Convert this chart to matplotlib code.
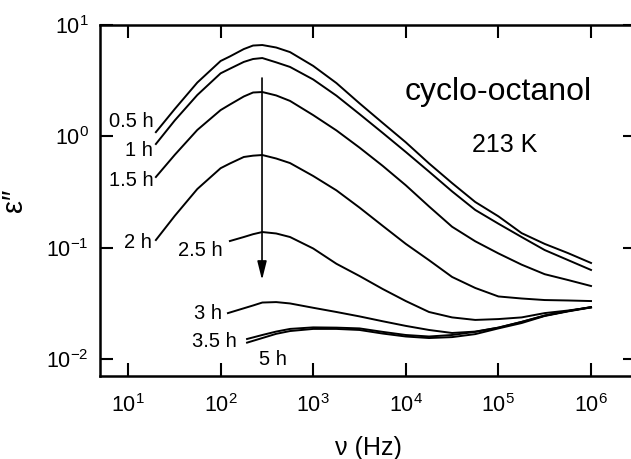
import matplotlib
matplotlib.use("Agg")
import matplotlib.pyplot as plt

plt.rcParams['font.family'] = ['Liberation Sans', 'DejaVu Sans']
plt.rcParams['mathtext.fontset'] = 'custom'
plt.rcParams['mathtext.rm'] = 'Liberation Sans'
plt.rcParams['mathtext.it'] = 'Liberation Sans:italic'

# frequencies (Hz)
f_full = [20, 32, 56, 100, 126, 178, 224, 282, 398, 562, 1000, 1780, 3160, 5620,
          1e4, 1.78e4, 3.16e4, 5.62e4, 1e5, 1.78e5, 3.16e5, 5.62e5, 1e6]
f_25 = [126, 178, 224, 282, 398, 562, 1000, 1780, 3160, 5620,
        1e4, 1.78e4, 3.16e4, 5.62e4, 1e5, 1.78e5, 3.16e5, 5.62e5, 1e6]
f_3 = [120, 178, 224, 282, 398, 562, 1000, 1780, 3160, 5620,
       1e4, 1.78e4, 3.16e4, 5.62e4, 1e5, 1.78e5, 3.16e5, 5.62e5, 1e6]
f_35 = [193, 282, 398, 562, 1000, 1780, 3160, 5620,
        1e4, 1.78e4, 3.16e4, 5.62e4, 1e5, 1.78e5, 3.16e5, 5.62e5, 1e6]

# eps'' for each ageing time
eps_05 = [1.09, 1.76, 3.04, 4.75, 5.22, 6.08, 6.54, 6.61, 6.28, 5.71, 4.29, 3.01,
          1.98, 1.32, 0.883, 0.571, 0.380, 0.257, 0.191, 0.135, 0.108, 0.0894, 0.0728]
eps_1 = [0.853, 1.39, 2.35, 3.68, 4.05, 4.66, 4.95, 5.05, 4.62, 4.20, 3.24, 2.32,
         1.585, 1.074, 0.723, 0.482, 0.320, 0.218, 0.164, 0.1245, 0.0951, 0.0774, 0.0630]
eps_15 = [0.431, 0.682, 1.14, 1.72, 1.93, 2.28, 2.475, 2.50, 2.33, 2.08, 1.55, 1.13,
          0.792, 0.543, 0.363, 0.2345, 0.154, 0.114, 0.0887, 0.0703, 0.0577, 0.0512, 0.0452]
eps_2 = [0.117, 0.193, 0.336, 0.517, 0.570, 0.652, 0.670, 0.679, 0.632, 0.575, 0.440,
         0.327, 0.229, 0.157, 0.108, 0.0771, 0.0545, 0.0434, 0.0364, 0.0349, 0.0338,
         0.0335, 0.0331]
eps_25 = [0.1146, 0.1245, 0.132, 0.138, 0.134, 0.1245, 0.0982, 0.0716, 0.0556, 0.0425,
          0.0331, 0.0264, 0.0236, 0.0224, 0.0228, 0.0236, 0.0258, 0.0272, 0.029]
eps_3 = [0.0258, 0.0285, 0.0302, 0.0321, 0.0324, 0.0315, 0.0288, 0.0264, 0.0241, 0.0218,
         0.0198, 0.0182, 0.0171, 0.0176, 0.0191, 0.0215, 0.0245, 0.0269, 0.0292]
eps_35 = [0.0151, 0.0164, 0.0176, 0.0186, 0.0192, 0.0191, 0.0188, 0.0175, 0.0164,
          0.0159, 0.0164, 0.0175, 0.0191, 0.0215, 0.0245, 0.0269, 0.0292]
eps_5 = [0.0140, 0.0154, 0.0168, 0.0178, 0.0186, 0.0186, 0.0182, 0.0169, 0.0159,
         0.0154, 0.0157, 0.0167, 0.0188, 0.0210, 0.0243, 0.0267, 0.0290]

curve_labels = ['0.5 h', '1 h', '1.5 h', '2 h', '2.5 h', '3 h', '3.5 h', '5 h']
curves = [(f_full, eps_05), (f_full, eps_1), (f_full, eps_15), (f_full, eps_2),
          (f_25, eps_25), (f_3, eps_3), (f_35, eps_35), (f_35, eps_5)]
# where each label sits (data coords), right aligned except 5 h
label_pos = [(19.1, 1.345), (18.6, 0.753), (19.1, 0.405), (18.2, 0.112),
             (106, 0.0951), (103.5, 0.0258), (150, 0.0142), (363, 0.0098)]

fig = plt.figure(figsize=(6.31, 4.59), dpi=100)
ax = fig.add_axes([0.1585, 0.1808, 0.8494, 0.7647])

for (f, e) in curves:
    ax.plot(f, e, color='k', lw=1.4)

for lab, (x, y) in zip(curve_labels, label_pos):
    ha = 'center' if lab == '5 h' else 'right'
    ax.text(x, y, lab, ha=ha, va='center', fontsize=14.5)

ax.annotate('', xy=(280, 0.0512), xytext=(280, 3.34),
            arrowprops=dict(arrowstyle='-|>,head_length=0.8,head_width=0.2',
                            color='k', lw=1.2, mutation_scale=14,
                            shrinkA=0, shrinkB=0))

ax.text(9.8e3, 2.5, 'cyclo-octanol', ha='left', va='center', fontsize=23)
ax.text(5.19e4, 0.836, '213 K', ha='left', va='center', fontsize=18)

ax.set_xscale('log')
ax.set_yscale('log')
ax.set_xlim(4.985, 3.06e6)
ax.set_ylim(0.00702, 10)
ax.minorticks_off()
ax.set_xticks([1e1, 1e2, 1e3, 1e4, 1e5, 1e6])
ax.set_yticks([1e-2, 1e-1, 1e0, 1e1])
ax.tick_params(direction='in', length=9.5, width=1.5, labelsize=15.5,
               top=True, right=True)
ax.tick_params(axis='x', pad=13)
ax.tick_params(axis='y', pad=8)
for s in ax.spines.values():
    s.set_linewidth(1.8)

ax.set_xlabel('ν (Hz)', fontsize=18, labelpad=14)
ax.set_ylabel('ε″', fontsize=21, labelpad=13)

plt.savefig("out.png", dpi=100)
print("Done")
